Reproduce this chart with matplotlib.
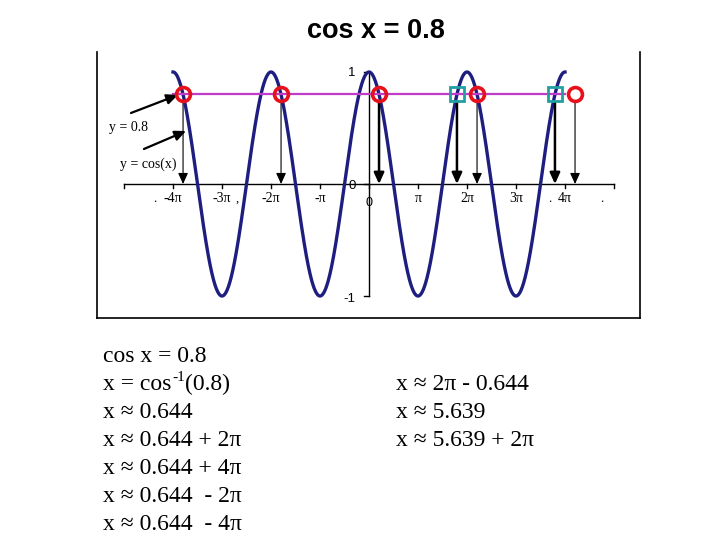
import numpy as np
import matplotlib
matplotlib.use('Agg')
import matplotlib.pyplot as plt

PI = np.pi

# solutions of cos x = 0.8 marked on the graph
red_x = [-11.922, -5.639, 0.644, 6.927, 13.210]   # 0.644 + 2k*pi
teal_x = [5.639, 11.922]                           # 5.639 + 2k*pi
level = 0.8

# x axis ticks (multiples of pi) and their labels
tick_mult = [-5, -4, -3, -2, -1, 0, 1, 2, 3, 4, 5]
tick_labels = ['', '-4π', '-3π', '-2π', '-π', '', 'π', '2π', '3π', '4π', '']

# curve y = cos(x) over -4pi..4pi
curve_x = np.linspace(-4 * PI, 4 * PI, 1200)
curve_y = np.cos(curve_x)

# worked solution text under the graph (row 2 is drawn in pieces for the superscript)
left_lines = ['cos x = 0.8',
              None,
              'x ≈ 0.644',
              'x ≈ 0.644 + 2π',
              'x ≈ 0.644 + 4π',
              'x ≈ 0.644  - 2π',
              'x ≈ 0.644  - 4π']
right_lines = ['x ≈ 2π - 0.644',
               'x ≈ 5.639',
               'x ≈ 5.639 + 2π']

serif = ['Liberation Serif', 'DejaVu Serif']
sans = ['Liberation Sans', 'DejaVu Sans']

fig = plt.figure(figsize=(7.2, 5.4), dpi=100)

# axes placed so that x=0 sits at px 369, pi = 49 px, y=0 at px 184, 1 unit = 112 px
L, R, T, B = 97, 640, 52, 318
ax = fig.add_axes([L / 720, 1 - B / 540, (R - L) / 720, (B - T) / 540])
ax.set_xlim((L - 369) * PI / 49, (R - 369) * PI / 49)
ax.set_ylim((184 - B) / 112, (184 - T) / 112)
ax.set_xticks([])
ax.set_yticks([])
ax.spines['top'].set_visible(False)
for s in ['left', 'right', 'bottom']:
    ax.spines[s].set_linewidth(1.2)

# axes lines
ax.plot([-5 * PI, 5 * PI], [0, 0], color='black', lw=1, zorder=2)
ax.plot([0, 0], [-1, 1], color='black', lw=1, zorder=2)
for k in tick_mult:
    ax.plot([k * PI, k * PI], [0, -0.04], color='black', lw=1)
for yv in [1, 0, -1]:
    ax.plot([-0.35, 0], [yv, yv], color='black', lw=1)

for k, lab in zip(tick_mult, tick_labels):
    ax.text(k * PI, -0.125, lab, ha='center', va='center', fontsize=10,
            family=serif)
# stray marks from the original slide
for xd, ch in [(-13.72, '.'), (-8.46, ','), (11.6, '.'), (14.94, '.')]:
    ax.text(xd, -0.13, ch, ha='center', va='center', fontsize=9, family=serif)
ax.text(0.02, -0.17, '0', ha='center', va='center', fontsize=9, family=sans)

ax.text(-0.85, 0.99, '1', ha='right', va='center', fontsize=9.5, family=sans)
ax.text(-0.85, -0.02, '0', ha='right', va='center', fontsize=9.5, family=sans)
ax.text(-0.85, -1.03, '-1', ha='right', va='center', fontsize=9.5, family=sans)

# curve and level line
ax.plot(curve_x, curve_y, color='#1E1E80', lw=2.4, zorder=3)
ax.plot([-4 * PI, 4 * PI], [level, level], color='#C03CC8', lw=1.6, zorder=3)

# arrows from each solution down to the x axis
arrow_style = '-|>,head_length=0.55,head_width=0.25'
for xv in red_x + teal_x:
    lw = 1.8 if xv == 0.644 or xv in teal_x else 0.8
    ax.annotate('', xy=(xv, 0), xytext=(xv, level - 0.07),
                arrowprops=dict(arrowstyle=arrow_style, color='black', lw=lw,
                                shrinkA=0, shrinkB=0, mutation_scale=12),
                zorder=4)

ax.plot(red_x, [level] * len(red_x), 'o', ms=10, mfc='none', mec='#E8101A',
        mew=2.6, zorder=5, clip_on=False)
ax.plot(teal_x, [level] * len(teal_x), 's', ms=9.5, mfc='none', mec='#20A0A0',
        mew=2.0, zorder=5)

# labels with pointer arrows
ax.text(-15.45, 0.5, 'y = 0.8', ha='center', va='center', fontsize=10,
        family=serif)
ax.text(-14.17, 0.18, 'y = cos(x)', ha='center', va='center', fontsize=10,
        family=serif)
ax.annotate('', xy=(-12.25, 0.795), xytext=(-15.26, 0.634),
            arrowprops=dict(arrowstyle=arrow_style, color='black', lw=1.6,
                            shrinkA=0, shrinkB=0, mutation_scale=12))
ax.annotate('', xy=(-11.73, 0.473), xytext=(-14.43, 0.3125),
            arrowprops=dict(arrowstyle=arrow_style, color='black', lw=1.6,
                            shrinkA=0, shrinkB=0, mutation_scale=12))

# title
fig.text(376 / 720, 1 - 31 / 540, 'cos x = 0.8', ha='center', va='center',
         fontsize=19.5, fontweight='bold', family=sans)

# solution text
for i, line in enumerate(left_lines):
    if line is None:
        continue
    fig.text(103 / 720, 1 - (362 + 28 * i) / 540, line, ha='left',
             va='baseline', fontsize=17, family=serif)
for i, line in enumerate(right_lines):
    fig.text(396 / 720, 1 - (390 + 28 * i) / 540, line, ha='left',
             va='baseline', fontsize=17, family=serif)

# row 2: x = cos^-1(0.8), built from pieces
renderer = fig.canvas.get_renderer()
y2 = 1 - 390 / 540
t1 = fig.text(103 / 720, y2, 'x = cos', ha='left', va='baseline',
              fontsize=17, family=serif)
x1 = t1.get_window_extent(renderer).x1 / 720
t2 = fig.text(x1 + 1 / 720, y2 + 9 / 540, '-1', ha='left', va='baseline',
              fontsize=11, family=serif)
x2 = t2.get_window_extent(renderer).x1 / 720
fig.text(x2, y2, '(0.8)', ha='left', va='baseline', fontsize=17, family=serif)

fig.savefig('out.png', dpi=100)
